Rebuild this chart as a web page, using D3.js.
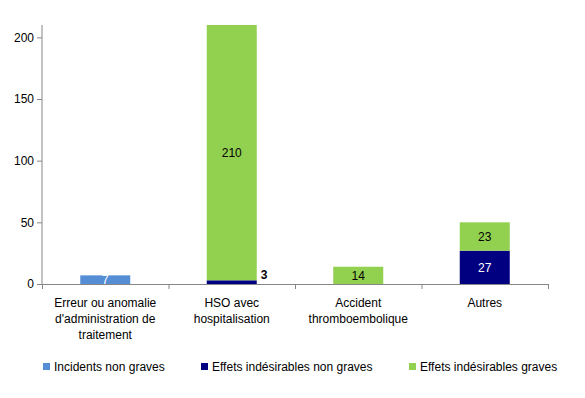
<!DOCTYPE html>
<html>
<head>
<meta charset="utf-8">
<script src="https://d3js.org/d3.v7.min.js"></script>
<style>
  body { margin: 0; background: #fff; }
  text { font-family: "Liberation Sans", Arial, sans-serif; }
</style>
</head>
<body>
<div id="chart"></div>
<script>
// data
var categories = [
  ["Erreur ou anomalie", "d'administration de", "traitement"],
  ["HSO avec", "hospitalisation"],
  ["Accident", "thromboembolique"],
  ["Autres"]
];
var seriesNames = ["Incidents non graves", "Effets indésirables non graves", "Effets indésirables graves"];
var incidents = [7, 0, 0, 0];
var effetsNonGraves = [0, 3, 0, 27];
var effetsGraves = [0, 210, 14, 23];
var yTicks = [0, 50, 100, 150, 200];

var colors = ["#558ed5", "#000080", "#92d050"];
var labelColors = ["#fff", "#fff", "#000"];

var w = 585, h = 398;
var svg = d3.select("#chart").append("svg").attr("width", w).attr("height", h);

var x = d3.scaleBand().domain(d3.range(categories.length)).range([42, 548]).paddingInner(0).paddingOuter(0);
var y = d3.scaleLinear().domain([0, 210]).range([284, 25]);

// plot area clip (axis max is 210, the stacked bar goes past it)
svg.append("clipPath").attr("id", "plot")
  .append("rect").attr("x", 42).attr("y", 25).attr("width", 506).attr("height", 259);

var rows = categories.map(function(c, i) {
  return { i: i, a: incidents[i], b: effetsNonGraves[i], c: effetsGraves[i] };
});
var stack = d3.stack().keys(["a", "b", "c"]);
var layers = stack(rows);

var barW = 50;
var g = svg.append("g");
var bars = g.append("g").attr("clip-path", "url(#plot)");
layers.forEach(function(layer, k) {
  layer.forEach(function(d, i) {
    var v = d[1] - d[0];
    if (v <= 0) return;
    var cx = x(i) + x.bandwidth() / 2;
    var top = Math.max(y(d[1]), 25);
    bars.append("rect")
      .attr("x", cx - barW / 2)
      .attr("y", y(d[1]))
      .attr("width", barW)
      .attr("height", y(d[0]) - y(d[1]))
      .attr("fill", colors[k]);
    // value label
    var small = (y(d[0]) - y(d[1])) < 6;
    g.append("text")
      .attr("x", small ? cx + barW / 2 + 4 : cx)
      .attr("y", small ? y(d[1]) - 1 : (y(d[0]) + top) / 2 + 4.5)
      .attr("text-anchor", small ? "start" : "middle")
      .attr("font-size", 12)
      .attr("font-weight", small ? "bold" : "normal")
      .attr("fill", small ? "#000" : labelColors[k])
      .text(v);
  });
});

// y axis
var yAxis = d3.axisLeft(y).tickValues(yTicks).tickSize(5).tickPadding(3);
var ya = svg.append("g").attr("transform", "translate(42,0)").call(yAxis);
ya.select(".domain").attr("d", "M0," + y(0) + "V25").attr("stroke", "#868686");
ya.selectAll(".tick line").attr("stroke", "#868686");
ya.selectAll(".tick text").attr("font-size", 12).attr("fill", "#000")
  .attr("font-family", "Liberation Sans, Arial, sans-serif");

// x axis line with ticks at category boundaries
var xa = svg.append("g");
xa.append("line").attr("x1", 42).attr("x2", 548).attr("y1", y(0) + 0.5).attr("y2", y(0) + 0.5)
  .attr("stroke", "#868686");
d3.range(categories.length + 1).forEach(function(i) {
  var xx = i < categories.length ? x(i) : x(categories.length - 1) + x.bandwidth();
  xa.append("line").attr("x1", xx + 0.5).attr("x2", xx + 0.5)
    .attr("y1", y(0)).attr("y2", y(0) + 5).attr("stroke", "#868686");
});

categories.forEach(function(lines, i) {
  var t = xa.append("text")
    .attr("x", x(i) + x.bandwidth() / 2)
    .attr("y", 307)
    .attr("text-anchor", "middle")
    .attr("font-size", 12)
    .attr("fill", "#000");
  lines.forEach(function(l, j) {
    t.append("tspan").attr("x", x(i) + x.bandwidth() / 2).attr("dy", j == 0 ? 0 : 16).text(l);
  });
});

// legend
var legendX = [43, 201, 409];
var leg = svg.append("g");
seriesNames.forEach(function(name, k) {
  leg.append("rect").attr("x", legendX[k]).attr("y", 363).attr("width", 7).attr("height", 7).attr("fill", colors[k]);
  leg.append("text").attr("x", legendX[k] + 11).attr("y", 371).attr("font-size", 12).attr("fill", "#000").text(name);
});
</script>
</body>
</html>
